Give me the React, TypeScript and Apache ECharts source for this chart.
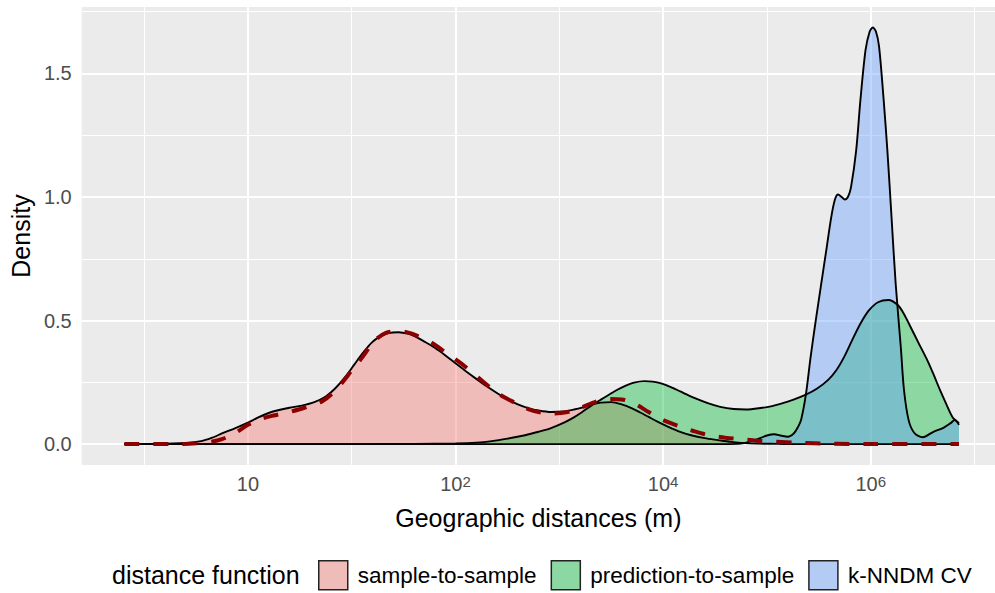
import React, { useEffect, useRef } from "react";
import * as echarts from "echarts";

// x values are log10-like positions (exponent units as drawn on the axis)
const pinkX = [-1.19, -0.9, -0.6, -0.45, -0.35, -0.25, -0.12, 0, 0.1, 0.2, 0.3, 0.4, 0.52, 0.64, 0.75, 0.84, 0.94, 1.03, 1.11, 1.19, 1.27, 1.35, 1.45, 1.55, 1.61, 1.7, 1.8, 1.9, 2.01, 2.1, 2.2, 2.3, 2.41, 2.51, 2.6, 2.7, 2.8, 2.92, 3.03, 3.14, 3.22, 3.31, 3.4, 3.5, 3.6, 3.7, 3.78, 3.86, 3.95, 4.05, 4.15, 4.27, 4.4, 4.53, 4.65, 4.75, 4.9, 5.1, 5.3, 5.6, 6.0, 6.4, 6.85];
const pinkY = [0, 0.001, 0.005, 0.012, 0.025, 0.043, 0.065, 0.087, 0.108, 0.126, 0.138, 0.147, 0.156, 0.17, 0.193, 0.225, 0.273, 0.325, 0.37, 0.41, 0.435, 0.449, 0.453, 0.446, 0.436, 0.415, 0.39, 0.36, 0.324, 0.295, 0.264, 0.234, 0.204, 0.179, 0.161, 0.146, 0.136, 0.13, 0.132, 0.14, 0.148, 0.16, 0.168, 0.17, 0.161, 0.145, 0.128, 0.11, 0.09, 0.07, 0.052, 0.036, 0.024, 0.016, 0.009, 0.005, 0.002, 0.001, 0, 0, 0, 0, 0];

const greenX = [-1.19, 0, 1.0, 1.6, 2.0, 2.2, 2.35, 2.5, 2.67, 2.8, 2.92, 3.05, 3.14, 3.22, 3.31, 3.4, 3.47, 3.55, 3.63, 3.72, 3.82, 3.9, 3.98, 4.08, 4.17, 4.3, 4.43, 4.55, 4.68, 4.8, 4.94, 5.05, 5.13, 5.25, 5.375, 5.48, 5.59, 5.67, 5.74, 5.82, 5.9, 5.98, 6.07, 6.17, 6.26, 6.32, 6.38, 6.46, 6.55, 6.61, 6.67, 6.73, 6.79, 6.85];
const greenY = [0, 0, 0, 0.001, 0.003, 0.006, 0.012, 0.022, 0.036, 0.05, 0.065, 0.088, 0.108, 0.13, 0.156, 0.18, 0.198, 0.218, 0.235, 0.249, 0.255, 0.253, 0.246, 0.23, 0.212, 0.187, 0.166, 0.151, 0.142, 0.14, 0.146, 0.154, 0.163, 0.179, 0.2, 0.224, 0.26, 0.3, 0.35, 0.42, 0.487, 0.54, 0.574, 0.583, 0.563, 0.527, 0.477, 0.41, 0.335, 0.277, 0.216, 0.16, 0.108, 0.085];

const blueX = [-1.19, 0, 2, 4, 4.6, 4.75, 4.82, 4.88, 4.94, 5.0, 5.07, 5.14, 5.2, 5.26, 5.3, 5.33, 5.375, 5.42, 5.47, 5.52, 5.57, 5.62, 5.655, 5.685, 5.72, 5.75, 5.78, 5.81, 5.86, 5.9, 5.95, 5.99, 6.02, 6.05, 6.08, 6.125, 6.16, 6.2, 6.24, 6.29, 6.32, 6.365, 6.42, 6.5, 6.6, 6.7, 6.77, 6.81, 6.85];
const blueY = [0, 0, 0, 0, 0, 0.002, 0.008, 0.016, 0.025, 0.035, 0.04, 0.034, 0.03, 0.044, 0.07, 0.1, 0.2, 0.35, 0.5, 0.64, 0.78, 0.92, 0.99, 1.01, 1.0, 0.99, 1.0, 1.04, 1.19, 1.39, 1.595, 1.67, 1.686, 1.67, 1.61, 1.39, 1.19, 0.92, 0.65, 0.39, 0.22, 0.097, 0.045, 0.028, 0.049, 0.066, 0.085, 0.098, 0.078];

const dashX = [-1.19, -0.7, -0.5, -0.35, -0.25, -0.12, 0, 0.13, 0.26, 0.38, 0.49, 0.6, 0.71, 0.8, 0.9, 1.0, 1.1, 1.22, 1.33, 1.45, 1.58, 1.77, 1.9, 2.06, 2.25, 2.41, 2.57, 2.7, 2.83, 2.95, 3.08, 3.2, 3.34, 3.47, 3.6, 3.72, 3.86, 4.0, 4.17, 4.3, 4.43, 4.6, 4.75, 4.9, 5.07, 5.3, 5.6, 6.0, 6.85];
const dashY = [0, 0, 0.003, 0.01, 0.02, 0.045, 0.078, 0.103, 0.117, 0.128, 0.14, 0.155, 0.172, 0.2, 0.245, 0.298, 0.35, 0.418, 0.45, 0.458, 0.447, 0.41, 0.372, 0.325, 0.258, 0.205, 0.168, 0.142, 0.127, 0.124, 0.13, 0.146, 0.17, 0.183, 0.181, 0.165, 0.13, 0.097, 0.07, 0.052, 0.037, 0.026, 0.02, 0.014, 0.01, 0.005, 0.002, 0, 0];

const seriesNames = ["sample-to-sample", "prediction-to-sample", "k-NNDM CV"];
const xTickValues = [0, 2, 4, 6];
const xTickLabels = ["10", "10^2", "10^4", "10^6"];
const xMinorGrid = [-1, 1, 3, 5, 7];
const yTickValues = [0, 0.5, 1, 1.5];
const yMinorGrid = [0.25, 0.75, 1.25, 1.75];

const zip = (xs: number[], ys: number[]) => xs.map((x, i) => [x, ys[i]]);

const FONT = "Liberation Sans, Arial, Helvetica, sans-serif";

export default function App() {
  const ref = useRef<HTMLDivElement>(null);
  useEffect(() => {
    if (!ref.current) return;
    const chart = echarts.init(ref.current, null, { renderer: "svg" });
    const areaSeries = (name: string, data: number[][], rgb: string) => ({
      name,
      type: "line",
      data,
      smooth: 0.3,
      showSymbol: false,
      symbol: "none",
      z: 2,
      color: `rgb(${rgb})`,
      lineStyle: { color: "#000", width: 1.9 },
      areaStyle: { color: `rgba(${rgb},0.4)`, opacity: 1 },
      silent: true,
    });
    const gridLine = (v: number, axis: "xAxis" | "yAxis", width: number) => ({
      [axis]: v,
      lineStyle: { color: "#ffffff", width, type: "solid" },
    });
    const option: any = {
      animation: false,
      backgroundColor: "#ffffff",
      textStyle: { fontFamily: FONT },
      grid: {
        left: 80,
        right: 0,
        top: 7,
        bottom: 128,
        show: true,
        backgroundColor: "#EBEBEB",
        borderWidth: 0,
      },
      xAxis: {
        type: "value",
        min: -1.601,
        max: 7.197,
        name: "Geographic distances (m)",
        nameLocation: "middle",
        nameGap: 40,
        nameTextStyle: { fontSize: 25, color: "#000", fontFamily: FONT },
        axisLine: { show: false },
        splitLine: { show: false },
        axisTick: {
          show: true,
          customValues: xTickValues,
          length: 6,
          lineStyle: { color: "#333333", width: 1.5 },
        },
        axisLabel: {
          customValues: xTickValues,
          margin: 9,
          verticalAlign: "top",
          formatter: (v: number) => {
            const i = xTickValues.indexOf(v);
            const lab = i >= 0 ? xTickLabels[i] : "";
            const parts = lab.split("^");
            if (parts.length === 1) return `{b|${parts[0]}}`;
            return `{b|${parts[0]}}{s|${parts[1]}}`;
          },
          rich: {
            b: { fontSize: 20, lineHeight: 20, color: "#4D4D4D", verticalAlign: "bottom", fontFamily: FONT },
            s: { fontSize: 15, lineHeight: 15, color: "#4D4D4D", verticalAlign: "top", padding: [0, 0, 11, 0], fontFamily: FONT },
          },
        },
      },
      yAxis: {
        type: "value",
        min: -0.0845,
        max: 1.769,
        name: "Density",
        nameLocation: "middle",
        nameGap: 44,
        nameTextStyle: { fontSize: 25, color: "#000", fontFamily: FONT },
        axisLine: { show: false },
        splitLine: { show: false },
        axisTick: {
          show: true,
          customValues: yTickValues,
          length: 6,
          lineStyle: { color: "#333333", width: 1.5 },
        },
        axisLabel: {
          customValues: yTickValues,
          margin: 10,
          fontSize: 20,
          color: "#4D4D4D",
          fontFamily: FONT,
          formatter: (v: number) => v.toFixed(1),
        },
      },
      legend: {
        data: seriesNames.map((n, i) => ({
          name: n,
          icon: "rect",
          itemStyle: {
            color: ["#EFBCB9", "#8DD7A3", "#B4CBF3"][i],
            borderColor: "#222",
            borderWidth: 1.5,
          },
        })),
        left: 318,
        top: 560,
        padding: 0,
        itemWidth: 29,
        itemHeight: 29,
        itemGap: 14,
        selectedMode: false,
        textStyle: { fontSize: 22.5, color: "#000", fontFamily: FONT, padding: [0, 0, 0, 5] },
      },
      graphic: [
        {
          type: "text",
          left: 112,
          top: 562,
          style: { text: "distance function", fontSize: 25, fill: "#000", fontFamily: FONT },
        },
      ],
      series: [
        {
          name: "grid",
          type: "line",
          data: [],
          silent: true,
          markLine: {
            z: 1,
            silent: true,
            symbol: "none",
            label: { show: false },
            animation: false,
            data: [
              ...xMinorGrid.map((v) => gridLine(v, "xAxis", 1)),
              ...yMinorGrid.map((v) => gridLine(v, "yAxis", 1)),
              ...xTickValues.map((v) => gridLine(v, "xAxis", 2)),
              ...yTickValues.map((v) => gridLine(v, "yAxis", 2)),
            ],
          },
        },
        areaSeries(seriesNames[0], zip(pinkX, pinkY), "248,118,109"),
        areaSeries(seriesNames[1], zip(greenX, greenY), "0,186,56"),
        areaSeries(seriesNames[2], zip(blueX, blueY), "97,156,255"),
        {
          name: "dashed",
          type: "line",
          data: zip(dashX, dashY),
          smooth: 0.3,
          showSymbol: false,
          symbol: "none",
          z: 3,
          silent: true,
          lineStyle: { color: "#8B0000", width: 4, type: [15, 14], cap: "butt" },
        },
      ],
    };
    chart.setOption(option);
    return () => chart.dispose();
  }, []);
  return (
    <div
      ref={ref}
      style={{ position: "absolute", left: 0, top: 0, width: 995, height: 593, background: "#fff" }}
    />
  );
}
